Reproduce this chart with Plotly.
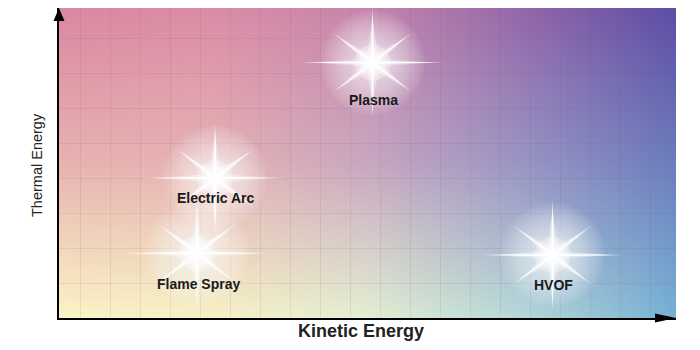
import base64, struct, zlib
import numpy as np
import plotly.graph_objects as go

# ---------------- data ----------------
processes = ["Flame Spray", "Electric Arc", "Plasma", "HVOF"]
kinetic_energy = [3.9, 4.5, 9.75, 15.75]   # grid units along x
thermal_energy = [1.85, 4.0, 7.3, 1.8]     # grid units along y
x_title = "Kinetic Energy"
y_title = "Thermal Energy"

# ---------------- layout constants ----------------
# the page body adds an 8px offset, so margins are reduced to compensate
W, H = 692, 342
ML, MR, MT, MB = 51, 24, 0, 32
PW, PH = W - ML - MR, H - MT - MB          # plot area in px
X_RANGE = [-0.7, -0.7 + PW / 30.0]         # 30 px per grid unit
Y_RANGE = [0, PH / 35.0]                   # 35 px per grid unit
PX_X = PW / (X_RANGE[1] - X_RANGE[0])
PX_Y = PH / (Y_RANGE[1] - Y_RANGE[0])

# ---------------- background gradient (style) ----------------
def hx(c):
    c = c.lstrip("#")
    return [int(c[i:i + 2], 16) for i in (0, 2, 4)]

grad_cols = [0.0, 0.25, 0.5, 0.75, 1.0]
grad_rows = [0.0, 0.5, 1.0]
grad = np.array([
    [hx(c) for c in ["#DB88A1", "#DB8CA6", "#C685AC", "#9467A9", "#5D4DA6"]],
    [hx(c) for c in ["#E8B3B1", "#E6B3B4", "#C9A7C0", "#9A95C4", "#6C7DBD"]],
    [hx(c) for c in ["#FBF4C6", "#F7F1C6", "#E3EFD2", "#B5D9D9", "#76B1D6"]],
], dtype=float)

IW, IH = PW, PH
xs = np.linspace(0, 1, IW)
ys = np.linspace(0, 1, IH)
rows_interp = np.stack([
    np.stack([np.interp(xs, grad_cols, grad[r, :, ch]) for ch in range(3)], axis=-1)
    for r in range(len(grad_rows))
])  # R x W x 3
img = np.empty((IH, IW, 3))
for j in range(IW):
    for ch in range(3):
        img[:, j, ch] = np.interp(ys, grad_rows, rows_interp[:, j, ch])
img = np.clip(img, 0, 255).astype(np.uint8)


def png_uri(arr):
    h, w, _ = arr.shape
    raw = b"".join(b"\x00" + arr[i].tobytes() for i in range(h))

    def chunk(t, d):
        return struct.pack(">I", len(d)) + t + d + struct.pack(">I", zlib.crc32(t + d) & 0xFFFFFFFF)

    png = (b"\x89PNG\r\n\x1a\n"
           + chunk(b"IHDR", struct.pack(">IIBBBBB", w, h, 8, 2, 0, 0, 0))
           + chunk(b"IDAT", zlib.compress(raw, 9))
           + chunk(b"IEND", b""))
    return "data:image/png;base64," + base64.b64encode(png).decode()


fig = go.Figure()

# ---------------- stars ----------------
ray_angles = [0, 37, 90, 143, 180, 217, 270, 323]
ray_lengths = [72, 50, 55, 50, 72, 50, 55, 50]   # px
glow_sizes = list(range(104, 4, -6))              # px diameters of stacked glow discs
core_sizes = [36, 28, 20, 13]


def star_polygon(cx, cy, inner, scale=1.0):
    px, py = [], []
    n = len(ray_angles)
    for k in range(n):
        a = np.radians(ray_angles[k])
        px.append(cx + scale * ray_lengths[k] * np.cos(a) / PX_X)
        py.append(cy + scale * ray_lengths[k] * np.sin(a) / PX_Y)
        a2 = np.radians(ray_angles[k] + (((ray_angles[(k + 1) % n] - ray_angles[k]) % 360) / 2))
        px.append(cx + inner * np.cos(a2) / PX_X)
        py.append(cy + inner * np.sin(a2) / PX_Y)
    px.append(px[0]); py.append(py[0])
    return px, py


for name, kx, ty in zip(processes, kinetic_energy, thermal_energy):
    # soft glow: stacked translucent discs
    fig.add_trace(go.Scatter(
        x=[kx] * len(glow_sizes), y=[ty] * len(glow_sizes), mode="markers",
        hoverinfo="skip", showlegend=False,
        marker=dict(size=glow_sizes, color="rgba(255,255,255,0.1)", line=dict(width=0))))
    # soft rays
    sx, sy = star_polygon(kx, ty, 11, 0.85)
    fig.add_trace(go.Scatter(x=sx, y=sy, mode="lines", fill="toself", hoverinfo="skip",
                             showlegend=False, line=dict(width=0),
                             fillcolor="rgba(255,255,255,0.35)"))
    # sharp rays
    sx, sy = star_polygon(kx, ty, 3.6)
    fig.add_trace(go.Scatter(x=sx, y=sy, mode="lines", fill="toself", hoverinfo="skip",
                             showlegend=False, line=dict(width=0),
                             fillcolor="rgba(255,255,255,0.97)"))
    # bright core
    fig.add_trace(go.Scatter(
        x=[kx] * len(core_sizes), y=[ty] * len(core_sizes), mode="markers",
        hoverinfo="skip", showlegend=False,
        marker=dict(size=core_sizes, color="rgba(255,255,255,0.45)", line=dict(width=0))))

# labels
label_shift = [-31, -20, -37, -30]
for name, kx, ty, sh in zip(processes, kinetic_energy, thermal_energy, label_shift):
    fig.add_annotation(x=kx, y=ty, text="<b>" + name + "</b>", showarrow=False,
                       yshift=sh, xshift=1,
                       font=dict(family="Liberation Sans, Arial", size=14, color="#1a1a1a"))

# axis titles (page px -> paper)
OX, OY = 8, 8
fig.add_annotation(xref="paper", yref="paper", x=(361 - OX - ML) / PW,
                   y=-(331 - OY - MT - PH) / PH,
                   text="<b>" + x_title + "</b>", showarrow=False, yanchor="middle",
                   font=dict(family="Liberation Sans, Arial", size=18, color="#222222"))
fig.add_annotation(xref="paper", yref="paper", x=(37 - OX - ML) / PW,
                   y=(MT + PH - (165 - OY)) / PH,
                   text=y_title, showarrow=False, textangle=-90, xanchor="center",
                   font=dict(family="Liberation Sans, Arial", size=14.5, color="#222222"))

# arrowheads
fig.add_shape(type="path", xref="paper", yref="paper", xsizemode="pixel", ysizemode="pixel",
              xanchor=1, yanchor=0, path="M 0 0 L -21 4.5 L -21 -4.5 Z",
              fillcolor="black", line=dict(width=0), layer="above")
fig.add_shape(type="path", xref="paper", yref="paper", xsizemode="pixel", ysizemode="pixel",
              xanchor=0, yanchor=1, path="M 0 0 L -5.5 -13 L 5.5 -13 Z",
              fillcolor="black", line=dict(width=0), layer="above")

fig.add_layout_image(dict(source=png_uri(img), xref="paper", yref="paper", x=0, y=1,
                          sizex=1, sizey=1, xanchor="left", yanchor="top",
                          sizing="stretch", layer="below"))

fig.update_xaxes(range=X_RANGE, showticklabels=False, ticks="", zeroline=False,
                 tick0=0, dtick=1, showgrid=True, gridcolor="rgba(110,80,110,0.11)", gridwidth=1,
                 showline=True, linecolor="black", linewidth=2)
fig.update_yaxes(range=Y_RANGE, showticklabels=False, ticks="", zeroline=False,
                 tick0=0, dtick=1, showgrid=True, gridcolor="rgba(110,80,110,0.11)", gridwidth=1,
                 showline=True, linecolor="black", linewidth=2)

fig.update_layout(width=W, height=H, margin=dict(l=ML, r=MR, t=MT, b=MB, autoexpand=False),
                  paper_bgcolor="white", plot_bgcolor="rgba(0,0,0,0)", showlegend=False)

fig.write_html("out.html")
